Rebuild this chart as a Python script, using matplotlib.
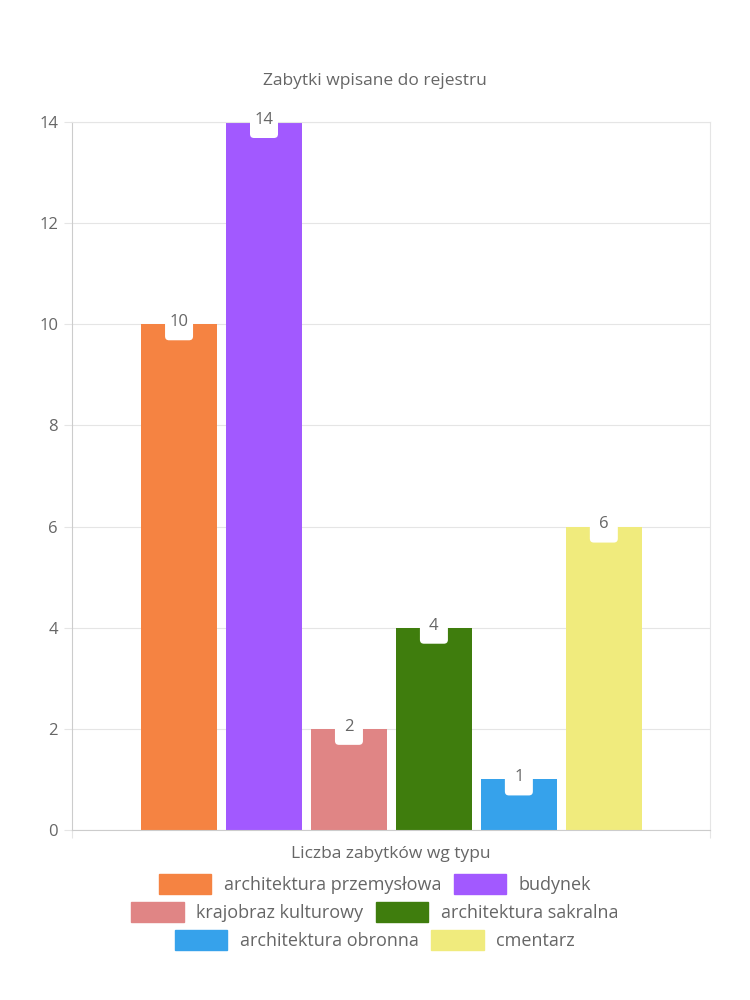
import matplotlib.pyplot as plt
import matplotlib.transforms as mtransforms
from matplotlib.patches import FancyBboxPatch

categories = ["architektura przemysłowa", "budynek", "krajobraz kulturowy",
              "architektura sakralna", "architektura obronna", "cmentarz"]
values = [10, 14, 2, 4, 1, 6]
colors = ["#F58342", "#A259FF", "#E08585", "#3F7D0D", "#36A2EB", "#F0EB7D"]
yticks = [0, 2, 4, 6, 8, 10, 12, 14]

plt.rcParams['font.family'] = ['Open Sans', 'DejaVu Sans']
txt = "#666666"

fig = plt.figure(figsize=(7.5, 10), dpi=100)
ax = fig.add_axes([0.096, 0.17, 0.8507, 0.708])

xs = list(range(len(values)))
ax.bar(xs, values, width=76 / 85, color=colors, zorder=2)

ax.set_xlim(-1.26, 6.25)
ax.set_ylim(0, 14)

for x, v in zip(xs, values):
    # white rounded tag (in pixels) anchored at the top of the bar
    tr = mtransforms.ScaledTranslation(x, v, ax.transData)
    tag = FancyBboxPatch((-14, -16), 28, 22,
                         boxstyle="round,pad=0,rounding_size=4",
                         fc="white", ec="none", transform=tr, zorder=3,
                         clip_on=False)
    ax.add_patch(tag)
    ax.annotate(str(v), (x, v), xytext=(0, 1.5), textcoords="offset points",
                ha="center", va="center", fontsize=12, color=txt, zorder=4,
                annotation_clip=False)

ax.set_yticks(yticks)
ax.set_xticks([-1.26, 6.25])
ax.set_xticklabels([])
ax.tick_params(axis="y", length=6, color="#e5e5e5", labelsize=12,
               labelcolor=txt, pad=4)
ax.tick_params(axis="x", length=6, color="#e5e5e5")
ax.grid(axis="y", color="#e5e5e5", linewidth=0.8, zorder=0)
for s in ["top", "right"]:
    ax.spines[s].set_color("#e5e5e5")
for s in ["left", "bottom"]:
    ax.spines[s].set_color("#cccccc")

ax.set_xlabel("Liczba zabytków wg typu", fontsize=12.5, color=txt, labelpad=2)
fig.text(0.5, 0.919, "Zabytki wpisane do rejestru", ha="center", va="center",
         fontsize=12.5, color=txt)

rows = [(0, 1), (2, 3), (4, 5)]
ys = [0.116, 0.088, 0.060]
for (a, b), y in zip(rows, ys):
    handles = [plt.Rectangle((0, 0), 1, 1, color=colors[i]) for i in (a, b)]
    fig.legend(handles, [categories[a], categories[b]], loc="center",
               bbox_to_anchor=(0.5, y), ncol=2, frameon=False, fontsize=13,
               labelcolor=txt, handlelength=2.9, handleheight=1.3,
               handletextpad=0.7, columnspacing=0.7, borderpad=0)

fig.savefig("out.png")
